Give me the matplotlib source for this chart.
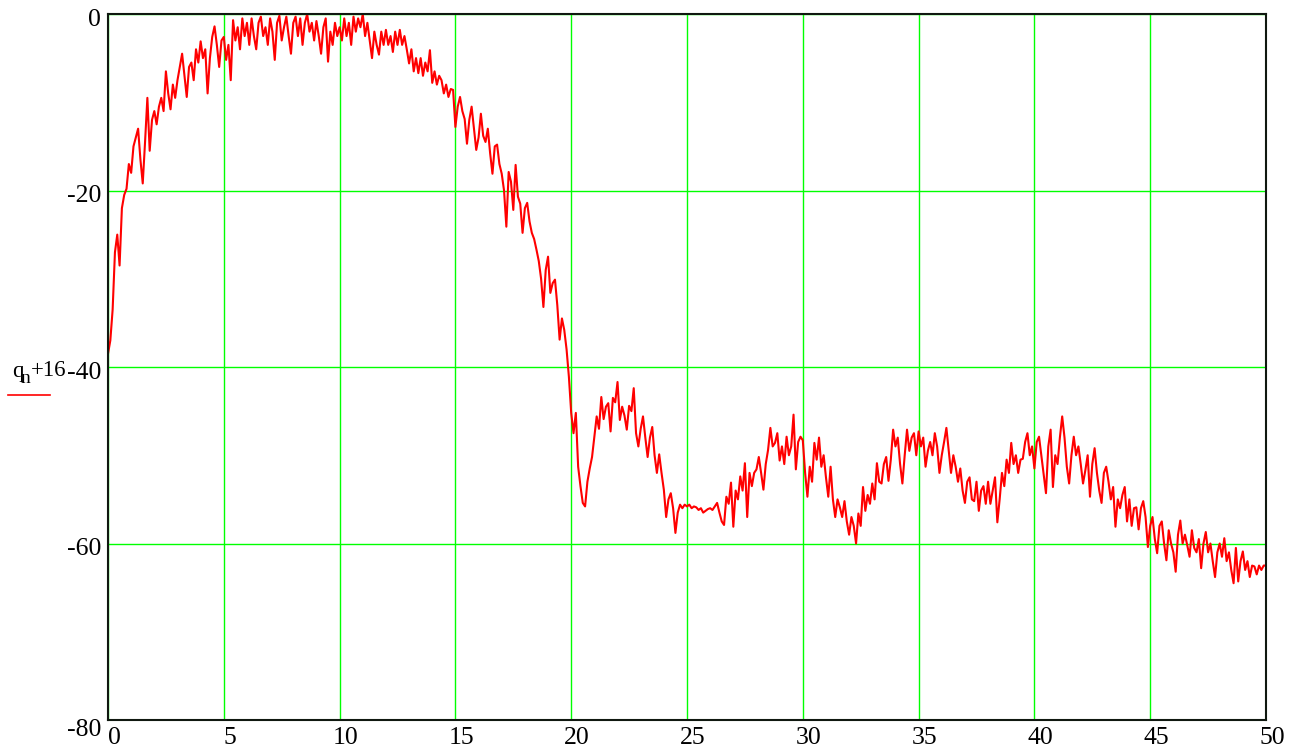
import numpy as np
import matplotlib
matplotlib.use("Agg")
import matplotlib.pyplot as plt
import matplotlib.transforms as mtransforms

plt.rcParams['font.family'] = ['Liberation Serif', 'DejaVu Serif']
plt.rcParams['axes.unicode_minus'] = False

# sample spacing of the series (x units)
step = 0.1
q_values = [
    -38.5, -37.0, -33.5, -27.0, -25.0, -28.5, -22.0, -20.5, -19.8, -17.0,
    -18.0, -15.0, -14.0, -13.0, -16.5, -19.2, -14.5, -9.5, -15.5, -12.0,
    -11.0, -12.5, -10.5, -9.5, -11.0, -6.5, -9.0, -10.8, -8.0, -9.5,
    -7.5, -6.0, -4.5, -7.0, -9.4, -6.0, -5.5, -7.5, -4.0, -5.5,
    -3.1, -5.0, -4.0, -9.0, -5.0, -2.6, -1.4, -3.5, -6.0, -3.0,
    -2.6, -5.2, -3.5, -7.5, -0.7, -3.0, -1.5, -4.0, -0.5, -2.5,
    -1.0, -3.5, -0.5, -2.5, -4.0, -1.0, -0.3, -2.5, -1.5, -3.5,
    -0.5, -2.0, -5.2, -1.0, -0.2, -3.0, -1.5, -0.3, -2.5, -4.5,
    -1.0, -0.3, -2.5, -0.5, -3.5, -1.0, 0.0, -2.0, -1.0, -3.0,
    -0.8, -2.5, -4.5, -1.5, -0.5, -5.4, -2.0, -3.5, -1.0, -2.5,
    -1.5, -3.0, -0.5, -2.5, -1.0, -3.5, -0.3, -2.0, -0.5, -1.5,
    0.0, -2.5, -1.0, -3.0, -5.0, -2.0, -3.5, -4.6, -2.0, -3.5,
    -1.8, -3.5, -2.5, -4.3, -2.0, -3.5, -1.8, -3.5, -2.5, -4.0,
    -5.6, -4.0, -6.5, -5.0, -6.7, -5.0, -7.0, -5.5, -6.5, -4.1,
    -7.8, -6.5, -8.0, -7.0, -7.5, -9.0, -8.0, -9.4, -8.5, -8.6,
    -12.8, -10.5, -9.4, -11.0, -11.9, -14.7, -12.0, -10.5, -13.0, -15.4,
    -14.0, -11.3, -13.8, -14.5, -13.0, -15.8, -18.1, -15.0, -14.8, -17.0,
    -18.1, -20.0, -24.1, -17.9, -19.0, -22.2, -17.1, -20.7, -21.5, -24.8,
    -22.0, -21.4, -23.5, -24.8, -25.5, -26.7, -28.0, -30.0, -33.2, -29.0,
    -27.5, -31.6, -30.5, -30.1, -33.0, -36.9, -34.5, -35.8, -38.0, -41.1,
    -45.2, -47.5, -45.2, -51.3, -53.5, -55.4, -55.8, -53.0, -51.5, -50.2,
    -47.9, -45.6, -47.0, -43.4, -45.9, -44.5, -44.1, -47.3, -43.5, -44.0,
    -41.7, -46.0, -44.5, -45.5, -47.1, -44.4, -45.0, -42.4, -47.5, -49.0,
    -47.0, -45.6, -48.0, -50.2, -48.0, -46.8, -50.0, -52.0, -49.9, -52.0,
    -53.9, -57.0, -55.0, -54.3, -56.0, -58.8, -56.5, -55.6, -56.0, -55.6,
    -55.8, -55.6, -56.0, -55.8, -55.9, -56.2, -56.0, -56.5, -56.3, -56.1,
    -56.0, -56.2, -55.8, -55.4, -56.5, -57.5, -57.9, -54.7, -55.5, -53.1,
    -58.1, -54.0, -55.0, -52.4, -54.0, -50.9, -57.0, -52.0, -53.5, -52.0,
    -51.6, -50.2, -52.0, -53.9, -51.0, -49.4, -46.9, -49.0, -48.6, -47.5,
    -50.6, -49.0, -51.0, -47.9, -50.0, -49.0, -45.4, -51.6, -48.5, -47.9,
    -48.3, -52.0, -54.7, -51.3, -53.0, -48.6, -50.5, -48.0, -51.3, -50.0,
    -52.5, -54.7, -51.3, -55.0, -57.0, -55.0, -55.9, -57.0, -55.2, -57.5,
    -59.0, -57.0, -58.0, -60.0, -56.6, -58.0, -53.6, -56.3, -54.5, -55.5,
    -53.2, -55.0, -50.9, -53.0, -53.2, -51.0, -50.2, -52.9, -50.5, -47.1,
    -49.0, -48.0, -51.0, -53.2, -50.0, -47.1, -49.5, -48.0, -47.5, -50.0,
    -47.3, -49.0, -48.0, -51.3, -49.5, -48.5, -50.0, -47.5, -49.0, -52.0,
    -50.0, -48.5, -46.9, -49.5, -52.0, -50.0, -51.3, -53.0, -51.5, -54.0,
    -55.4, -53.0, -52.5, -55.0, -55.2, -53.0, -56.3, -54.0, -53.5, -55.5,
    -53.0, -55.5, -54.0, -52.5, -57.6, -55.0, -52.0, -53.5, -50.5, -52.0,
    -48.6, -51.0, -50.0, -52.0, -50.5, -50.4, -48.5, -47.5, -50.0, -49.0,
    -51.5, -48.5, -47.9, -50.0, -52.0, -54.3, -49.0, -47.1, -53.6, -50.0,
    -51.0, -48.0, -45.6, -48.0, -51.3, -53.2, -50.0, -47.9, -50.0, -49.0,
    -51.0, -53.2, -51.7, -50.0, -54.7, -51.0, -49.2, -52.0, -54.0, -55.4,
    -52.0, -51.3, -53.0, -55.0, -53.6, -58.1, -55.0, -56.0, -54.5, -53.6,
    -57.5, -55.0, -58.0, -56.0, -55.9, -58.4, -56.0, -55.2, -57.0, -60.4,
    -58.0, -57.0, -59.5, -61.1, -58.0, -57.5, -60.0, -61.9, -58.5, -60.0,
    -61.0, -63.2, -59.0, -57.4, -60.0, -59.0, -60.2, -61.5, -58.5, -60.5,
    -61.0, -59.5, -62.8, -60.0, -58.7, -61.0, -60.0, -62.0, -63.8, -61.0,
    -60.0, -61.5, -59.4, -62.0, -61.0, -63.0, -64.5, -60.5, -64.3, -62.0,
    -60.9, -63.0, -62.0, -63.8, -62.5, -62.6, -63.5, -62.5, -63.0, -62.5,
    -62.5,
]
x_ticks = [0, 5, 10, 15, 20, 25, 30, 35, 40, 45, 50]
y_ticks = [-80, -60, -40, -20, 0]

x = np.arange(len(q_values)) * step

W, H = 1295, 751
fig = plt.figure(figsize=(W / 100, H / 100), dpi=100)
ax = fig.add_axes([108 / W, 1 - 720 / H, (1266 - 108) / W, (720 - 14) / H])

ax.plot(x, q_values, color='#ff0000', linewidth=1.5, zorder=3, clip_on=True)

ax.set_xlim(0, 50)
ax.set_ylim(-80, 0)
ax.set_xticks(x_ticks)
ax.set_yticks(y_ticks)
ax.grid(True, color='#00ff00', linewidth=1.0, zorder=1)
ax.tick_params(length=0, labelsize=18.5)
ax.tick_params(axis='y', pad=5)
ax.tick_params(axis='x', pad=5)
ax.set_xticklabels([str(v) for v in x_ticks])
ax.set_yticklabels([str(v) for v in y_ticks])

dx = mtransforms.ScaledTranslation(6 / 100, 0, fig.dpi_scale_trans)
for lab in ax.get_xticklabels():
    lab.set_transform(lab.get_transform() + dx)
for v, lab in zip(y_ticks, ax.get_yticklabels()):
    off = -7 if v == -80 else -3
    lab.set_transform(lab.get_transform() + mtransforms.ScaledTranslation(0, off / 100, fig.dpi_scale_trans))

for s in ax.spines.values():
    s.set_color('#101810')
    s.set_linewidth(1.5)
    s.set_zorder(4)

# y-axis label "q_n+16" with legend line
fig.text(12 / W, 1 - 377 / H, 'q', fontsize=16.5, ha='left', va='baseline')
fig.text(21 / W, 1 - 383 / H, 'n', fontsize=14, ha='left', va='baseline')
fig.text(31 / W, 1 - 376 / H, '+16', fontsize=16.5, ha='left', va='baseline')
fig.add_artist(plt.Line2D([8 / W, 50 / W], [1 - 395 / H, 1 - 395 / H],
                          color='#ff0000', linewidth=1.2, transform=fig.transFigure))

fig.savefig('out.png', dpi=100)
